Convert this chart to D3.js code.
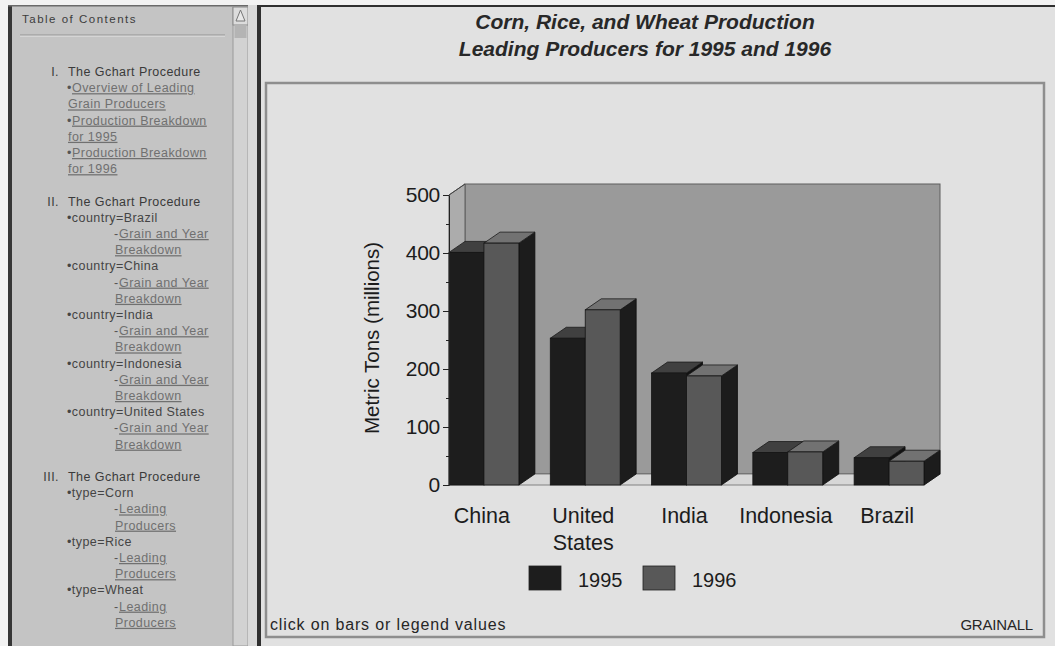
<!DOCTYPE html>
<html><head><meta charset="utf-8">
<script src="https://cdn.jsdelivr.net/npm/d3@7"></script>
<style>
body{margin:0;background:#f2f2f2;}
svg{display:block;font-family:"Liberation Sans",Arial,Helvetica,sans-serif;}
</style></head><body>
<svg id="page" width="1055" height="646"></svg>
<script>
// ---- chart data ----
const countries = ["China", "United States", "India", "Indonesia", "Brazil"];
const years = ["1995", "1996"];
const production1995 = [401, 253, 193, 56, 47];
const production1996 = [417, 302, 188, 57, 41];
const yTickValues = [0, 100, 200, 300, 400, 500];
const yMinorTicks = [50, 150, 250, 350, 450];
const chartTitles = ["Corn, Rice, and Wheat Production", "Leading Producers for 1995 and 1996"];
const axisTitle = "Metric Tons  (millions)";
const footNote = "click on bars or legend values";
const chartName = "GRAINALL";

// ---- table of contents ----
const tocHeading = "Table of Contents";
const tocLines = [
  ["head", "I.", "The Gchart Procedure"],
  ["blink", "Overview of Leading"],
  ["link", "Grain Producers"],
  ["blink", "Production Breakdown"],
  ["link", "for 1995"],
  ["blink", "Production Breakdown"],
  ["link", "for 1996"],
  ["blank"],
  ["head", "II.", "The Gchart Procedure"],
  ["bullet", "country=Brazil"],
  ["sub", "Grain and Year"],
  ["subcont", "Breakdown"],
  ["bullet", "country=China"],
  ["sub", "Grain and Year"],
  ["subcont", "Breakdown"],
  ["bullet", "country=India"],
  ["sub", "Grain and Year"],
  ["subcont", "Breakdown"],
  ["bullet", "country=Indonesia"],
  ["sub", "Grain and Year"],
  ["subcont", "Breakdown"],
  ["bullet", "country=United States"],
  ["sub", "Grain and Year"],
  ["subcont", "Breakdown"],
  ["blank"],
  ["head", "III.", "The Gchart Procedure"],
  ["bullet", "type=Corn"],
  ["sub", "Leading"],
  ["subcont", "Producers"],
  ["bullet", "type=Rice"],
  ["sub", "Leading"],
  ["subcont", "Producers"],
  ["bullet", "type=Wheat"],
  ["sub", "Leading"],
  ["subcont", "Producers"]
];

const svg = d3.select("#page");

// ---------- window frames ----------
svg.append("rect").attr("x", 0).attr("y", 0).attr("width", 1055).attr("height", 646).attr("fill", "#f2f2f2");
// left (contents) pane
svg.append("rect").attr("x", 10).attr("y", 5).attr("width", 240).attr("height", 641).attr("fill", "#c4c4c4");
svg.append("rect").attr("x", 8).attr("y", 5).attr("width", 4).attr("height", 641).attr("fill", "#363636");
svg.append("rect").attr("x", 8).attr("y", 5).attr("width", 242).attr("height", 1.5).attr("fill", "#6a6a6a");
// scrollbar
svg.append("rect").attr("x", 233).attr("y", 7).attr("width", 15).attr("height", 639).attr("fill", "#d2d2d2").attr("stroke", "#9a9a9a");
svg.append("rect").attr("x", 233).attr("y", 7).attr("width", 15).attr("height", 18).attr("fill", "#dcdcdc").attr("stroke", "#8a8a8a");
svg.append("path").attr("d", "M240.5,10 L236,21 L245,21 Z").attr("fill", "#e8e8e8").attr("stroke", "#777");
svg.append("rect").attr("x", 234.5).attr("y", 25).attr("width", 12).attr("height", 13).attr("fill", "#b4b4b4");
svg.append("rect").attr("x", 248).attr("y", 5).attr("width", 9).attr("height", 641).attr("fill", "#d9d9d9");
// right (chart) pane
svg.append("rect").attr("x", 257).attr("y", 5).attr("width", 798).attr("height", 641).attr("fill", "#2f2f2f");
svg.append("rect").attr("x", 261).attr("y", 7).attr("width", 794).attr("height", 639).attr("fill", "#e1e1e1");

// ---------- contents pane text ----------
const toc = svg.append("g").attr("font-size", 12.5).attr("letter-spacing", 0.45);
toc.append("text").attr("x", 22).attr("y", 23).attr("font-size", 11.5).attr("letter-spacing", 1.5)
  .attr("fill", "#3c3c3c").text(tocHeading);
toc.append("line").attr("x1", 20).attr("x2", 225).attr("y1", 35).attr("y2", 35).attr("stroke", "#959595");
toc.append("line").attr("x1", 20).attr("x2", 225).attr("y1", 36.2).attr("y2", 36.2).attr("stroke", "#dcdcdc");

const tocY = i => 76 + i * 16.2;
tocLines.forEach((ln, i) => {
  const [kind, a, b] = ln;
  if (kind === "blank") return;
  const yy = tocY(i);
  if (kind === "head") {
    toc.append("text").attr("x", 59).attr("y", yy).attr("text-anchor", "end").attr("fill", "#3a3a3a").text(a);
    toc.append("text").attr("x", 68).attr("y", yy).attr("fill", "#3a3a3a").text(b);
  } else if (kind === "blink") {
    toc.append("text").attr("x", 67).attr("y", yy).attr("fill", "#555").text("•");
    toc.append("text").attr("x", 72).attr("y", yy).attr("fill", "#707070").attr("text-decoration", "underline").text(a);
  } else if (kind === "link") {
    toc.append("text").attr("x", 68).attr("y", yy).attr("fill", "#707070").attr("text-decoration", "underline").text(a);
  } else if (kind === "bullet") {
    toc.append("text").attr("x", 67).attr("y", yy).attr("fill", "#444").text("•" + a);
  } else if (kind === "sub") {
    toc.append("text").attr("x", 114).attr("y", yy).attr("fill", "#555").text("-");
    toc.append("text").attr("x", 119).attr("y", yy).attr("fill", "#707070").attr("text-decoration", "underline").text(a);
  } else if (kind === "subcont") {
    toc.append("text").attr("x", 115).attr("y", yy).attr("fill", "#707070").attr("text-decoration", "underline").text(a);
  }
});

// ---------- chart titles ----------
svg.selectAll("text.title").data(chartTitles).join("text")
  .attr("class", "title")
  .attr("x", 645).attr("y", (d, i) => 29 + i * 27)
  .attr("text-anchor", "middle")
  .attr("font-size", 21).attr("font-style", "italic").attr("font-weight", "bold")
  .attr("fill", "#282828")
  .text(d => d);

// graph frame
svg.append("rect").attr("x", 266).attr("y", 83).attr("width", 778).attr("height", 554)
  .attr("fill", "none").attr("stroke", "#8e8e8e").attr("stroke-width", 2.5);

// ---------- scales ----------
const DX = 16, DY = -11; // depth offset of the 3D projection
const x0 = d3.scaleBand().domain(countries).range([449, 924]).paddingInner(0.31).paddingOuter(0);
const x1 = d3.scaleBand().domain(years).range([0, x0.bandwidth()]);
const y = d3.scaleLinear().domain([0, 500]).range([485, 195]);
const xL = x0.range()[0], xR = x0.range()[1];
const yTop = y(500), yBase = y(0);

const plot = svg.append("g");
// back wall
plot.append("rect").attr("x", xL + DX).attr("y", yTop + DY).attr("width", xR - xL).attr("height", yBase - yTop)
  .attr("fill", "#9a9a9a").attr("stroke", "#5e5e5e").attr("stroke-width", 1);
// side wall
plot.append("path")
  .attr("d", `M${xL},${yTop} L${xL + DX},${yTop + DY} L${xL + DX},${yBase + DY} L${xL},${yBase} Z`)
  .attr("fill", "#acacac").attr("stroke", "#5e5e5e").attr("stroke-width", 1);
// floor
plot.append("path")
  .attr("d", `M${xL},${yBase} L${xR},${yBase} L${xR + DX},${yBase + DY} L${xL + DX},${yBase + DY} Z`)
  .attr("fill", "#d7d7d7").attr("stroke", "#6a6a6a").attr("stroke-width", 0.8);

// ---------- bars ----------
const seriesValues = [production1995, production1996];
const barFill = {"1995": {front: "#1d1d1d", top: "#404040", side: "#121212"},
                 "1996": {front: "#585858", top: "#727272", side: "#1c1c1c"}};
const barData = countries.flatMap((c, i) => years.map((yr, j) => ({country: c, year: yr, value: seriesValues[j][i]})));

const bars = plot.selectAll("g.bar").data(barData).join("g").attr("class", "bar");
bars.each(function(d) {
  const g = d3.select(this);
  const bx = x0(d.country) + x1(d.year), w = x1.bandwidth();
  const t = y(d.value), b = y(0);
  const col = barFill[d.year];
  g.append("path")
    .attr("d", `M${bx + w},${t} L${bx + w + DX},${t + DY} L${bx + w + DX},${b + DY} L${bx + w},${b} Z`)
    .attr("fill", col.side).attr("stroke", "#0c0c0c").attr("stroke-width", 0.8);
  g.append("path")
    .attr("d", `M${bx},${t} L${bx + DX},${t + DY} L${bx + w + DX},${t + DY} L${bx + w},${t} Z`)
    .attr("fill", col.top).attr("stroke", "#1a1a1a").attr("stroke-width", 0.8);
  g.append("rect").attr("x", bx).attr("y", t).attr("width", w).attr("height", b - t)
    .attr("fill", col.front).attr("stroke", "#141414").attr("stroke-width", 0.8);
});

// ---------- axes ----------
const yAxis = svg.append("g").attr("transform", `translate(${xL},0)`)
  .call(d3.axisLeft(y).tickValues(yTickValues).tickSize(6).tickSizeOuter(0).tickPadding(3));
yAxis.select(".domain").attr("stroke", "#222");
yAxis.selectAll(".tick line").attr("stroke", "#222");
yAxis.selectAll("text").attr("font-size", 21).attr("font-family", "Liberation Sans, Arial, sans-serif")
  .attr("fill", "#1c1c1c").attr("letter-spacing", -0.3);
const yMinor = svg.append("g").attr("transform", `translate(${xL},0)`)
  .call(d3.axisLeft(y).tickValues(yMinorTicks).tickSize(3).tickSizeOuter(0).tickFormat(""));
yMinor.select(".domain").remove();
yMinor.selectAll(".tick line").attr("stroke", "#222");
// slanted top edge of the side wall
svg.append("line").attr("x1", xL).attr("y1", yTop).attr("x2", xL + DX).attr("y2", yTop + DY).attr("stroke", "#444");

svg.append("text")
  .attr("transform", `translate(379,${(yTop + yBase) / 2 - 2}) rotate(-90)`)
  .attr("text-anchor", "middle").attr("font-size", 20.5).attr("fill", "#1c1c1c")
  .text(axisTitle);

// category labels
const catLabels = svg.selectAll("text.cat").data(countries).join("text")
  .attr("class", "cat")
  .attr("text-anchor", "middle").attr("font-size", 21.5).attr("fill", "#1c1c1c")
  .attr("transform", d => `translate(${x0(d) + x0.bandwidth() / 2 - 2},523)`);
catLabels.selectAll("tspan").data(d => d.split(" ")).join("tspan")
  .attr("x", 0).attr("dy", (d, i) => i === 0 ? 0 : 27).text(d => d);

// ---------- legend ----------
const legend = svg.append("g").attr("transform", "translate(529,566)");
const li = legend.selectAll("g").data(years).join("g").attr("transform", (d, i) => `translate(${i * 114},0)`);
li.append("rect").attr("width", 32).attr("height", 24).attr("fill", d => barFill[d].front)
  .attr("stroke", "#222").attr("stroke-width", 0.8);
li.append("text").attr("x", 49).attr("y", 21).attr("font-size", 20).attr("fill", "#1c1c1c")
  .text(d => d);

// ---------- footnotes ----------
svg.append("text").attr("x", 270).attr("y", 630).attr("font-size", 16).attr("fill", "#262626")
  .attr("letter-spacing", 0.85).text(footNote);
svg.append("text").attr("x", 1033).attr("y", 630).attr("font-size", 15).attr("text-anchor", "end")
  .attr("fill", "#262626").attr("letter-spacing", -0.2).text(chartName);
</script>
</body></html>
